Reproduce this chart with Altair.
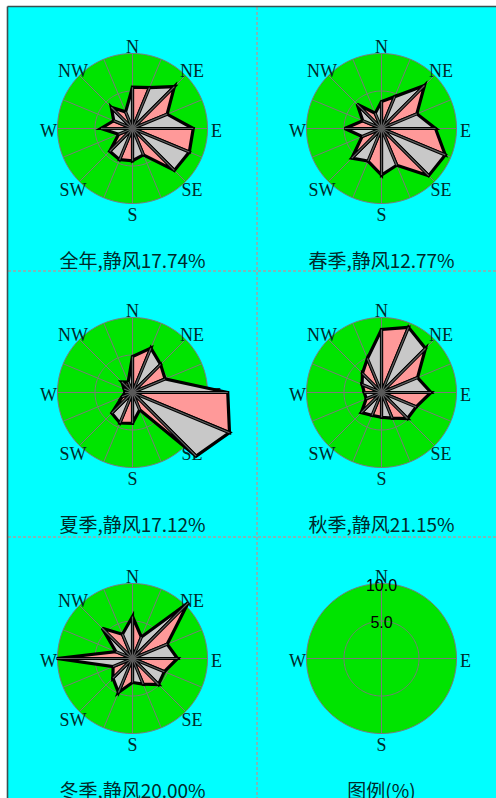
import numpy as np
import pandas as pd
import altair as alt

# 16 compass sectors, clockwise from north
DIRS = ["N", "NNE", "NE", "ENE", "E", "ESE", "SE", "SSE",
        "S", "SSW", "SW", "WSW", "W", "WNW", "NW", "NNW"]

# wind direction frequency (%) per sector
annual = [5.5, 5.9, 7.9, 5.0, 8.1, 8.2, 7.9, 3.8, 4.3, 4.5, 4.3, 2.0, 4.2, 2.7, 4.0, 2.4]
spring = [3.6, 4.6, 8.1, 5.1, 7.2, 9.2, 8.9, 5.3, 6.2, 4.7, 5.6, 2.8, 4.9, 2.7, 4.6, 2.2]
summer = [4.8, 6.4, 5.3, 4.7, 12.7, 14.0, 12.0, 2.5, 4.1, 4.4, 3.9, 1.5, 1.0, 1.2, 2.0, 1.5]
autumn = [8.4, 9.4, 8.3, 5.2, 6.6, 5.0, 4.9, 3.7, 3.3, 3.3, 3.8, 2.2, 2.3, 2.8, 3.6, 4.9]
winter = [5.6, 3.1, 10.5, 5.0, 6.0, 4.6, 4.9, 3.7, 3.2, 4.9, 3.7, 2.8, 10.1, 2.4, 5.7, 3.5]

captions = ["全年,静风17.74%", "春季,静风12.77%", "夏季,静风17.12%",
            "秋季,静风21.15%", "冬季,静风20.00%", "图例(%)"]

compass_labels = ["N", "NE", "E", "SE", "S", "SW", "W", "NW"]
legend_labels = ["N", "E", "S", "W"]
rings = [10.0, 5.0]

PINK = "#FF9999"
GREY = "#C8C8C8"
GREEN = "#00E400"
GRID = "#7a7a7a"
TEXT = "#002a2a"

W, H = 496, 798
PX = 7.5                   # pixels per percent
CX, CY = 124.5, 121.5      # rose centre inside a grid cell
COL_X = [8, 257]           # cell left edges
ROW_Y = [7, 271, 537]      # cell top edges

panels = [
    {"values": annual, "caption": captions[0], "col": 0, "row": 0},
    {"values": spring, "caption": captions[1], "col": 1, "row": 0},
    {"values": summer, "caption": captions[2], "col": 0, "row": 1},
    {"values": autumn, "caption": captions[3], "col": 1, "row": 1},
    {"values": winter, "caption": captions[4], "col": 0, "row": 2},
    {"values": None, "caption": captions[5], "col": 1, "row": 2},
]

ring_rows, spoke_rows, petal_rows, ray_rows = [], [], [], []
hub_rows, label_rows, cap_rows, tick_rows = [], [], [], []

for pid, p in enumerate(panels):
    cx = COL_X[p["col"]] + CX
    cy = ROW_Y[p["row"]] + CY
    legend = p["values"] is None
    for r in rings:
        for i, k in enumerate(np.linspace(0, 16, 181)):
            ring_rows.append({"pid": pid, "ring": r, "i": i, "k": k, "r": r, "cx": cx, "cy": cy})
    for k in ([0, 4, 8, 12] if legend else range(16)):
        spoke_rows.append({"pid": pid, "k": k, "r": rings[0], "cx": cx, "cy": cy})
    names = legend_labels if legend else compass_labels
    for name in names:
        label_rows.append({"name": name, "k": DIRS.index(name), "r": 11.2, "cx": cx, "cy": cy})
    cap_rows.append({"t": p["caption"], "cx": cx, "cy": cy})
    if legend:
        for r in rings:
            tick_rows.append({"r": r, "k": 0, "cx": cx, "cy": cy})
        continue
    vals = p["values"]
    n = len(vals)
    for i in range(n):
        j = (i + 1) % n
        pts = [(i, 0.0), (i, vals[i]), (i + 1, vals[j]), (i, 0.0)]
        for o, (k, r) in enumerate(pts):
            petal_rows.append({"tri": f"{pid}-{i}", "o": o, "k": k, "r": r, "cx": cx, "cy": cy,
                               "shade": "a" if i % 2 == 0 else "b"})
        ray_rows.append({"k": i, "r": vals[i], "cx": cx, "cy": cy})
    hub_rows.append({"cx": cx, "cy": cy})

xs = alt.Scale(domain=[0, W], nice=False, zero=False)
ys = alt.Scale(domain=[0, H], reverse=True, nice=False, zero=False)


def X(f):
    return alt.X(f, type="quantitative", scale=xs, axis=None)


def Y(f):
    return alt.Y(f, type="quantitative", scale=ys, axis=None)


def polar(df):
    return alt.Chart(pd.DataFrame(df)).transform_calculate(
        x=f"datum.cx + datum.r * sin(datum.k * PI / 8) * {PX}",
        y=f"datum.cy - datum.r * cos(datum.k * PI / 8) * {PX}",
    )


one = pd.DataFrame({"a": [0]})
SEP = dict(color="#a2a2a2", strokeDash=[3, 2], strokeWidth=1.5)

# cyan grid area, outer frame and dashed cell separators
backdrop = alt.Chart(one).mark_rect(color="#00FFFF").encode(
    x=alt.value(COL_X[0]), x2=alt.value(W), y=alt.value(ROW_Y[0]), y2=alt.value(H))
sep_v = alt.Chart(one).mark_rule(**SEP).encode(
    x=alt.value(COL_X[1]), y=alt.value(ROW_Y[0]), y2=alt.value(H))
sep_h1 = alt.Chart(one).mark_rule(**SEP).encode(
    x=alt.value(COL_X[0]), x2=alt.value(W), y=alt.value(ROW_Y[1]))
sep_h2 = alt.Chart(one).mark_rule(**SEP).encode(
    x=alt.value(COL_X[0]), x2=alt.value(W), y=alt.value(ROW_Y[2]))
frame_top = alt.Chart(one).mark_rule(color="#3a5050", strokeWidth=1.6).encode(
    x=alt.value(COL_X[0] - 0.5), x2=alt.value(W), y=alt.value(ROW_Y[0] - 0.5))
frame_left = alt.Chart(one).mark_rule(color="#3a5050", strokeWidth=1.6).encode(
    x=alt.value(COL_X[0] - 0.5), y=alt.value(ROW_Y[0] - 0.5), y2=alt.value(H))

disc = polar(ring_rows).transform_filter("datum.ring == 10").mark_line(
    fill=GREEN, stroke=GRID, strokeWidth=1
).encode(x=X("x"), y=Y("y"), order="i:Q", detail="pid:N")

inner = polar(ring_rows).transform_filter("datum.ring == 5").mark_line(
    stroke=GRID, strokeWidth=1
).encode(x=X("x"), y=Y("y"), order="i:Q", detail="pid:N")

spokes = polar(spoke_rows).mark_rule(color=GRID, strokeWidth=1).encode(
    x=X("cx"), y=Y("cy"), x2="x:Q", y2="y:Q")

# compass letters sit beneath the petals, which may cover them
dir_text = polar(label_rows).mark_text(
    font="Liberation Serif", fontSize=18, color=TEXT, baseline="middle", align="center", dy=3
).encode(x=X("x"), y=Y("y"), text="name:N")

petals = polar(petal_rows).mark_line(
    stroke="black", strokeWidth=3.2, strokeJoin="miter"
).encode(
    x=X("x"), y=Y("y"), order="o:Q", detail="tri:N",
    fill=alt.Fill("shade:N", scale=alt.Scale(domain=["a", "b"], range=[PINK, GREY]), legend=None),
)

rays = polar(ray_rows).mark_rule(color="#606060", strokeWidth=1.2).encode(
    x=X("cx"), y=Y("cy"), x2="x:Q", y2="y:Q")

hub = alt.Chart(pd.DataFrame(hub_rows)).mark_circle(size=45, color="#595959", opacity=1).encode(
    x=X("cx"), y=Y("cy"))

ring_text = polar(tick_rows).mark_text(
    font="Liberation Sans", fontSize=16, color="black", baseline="middle", align="center", dy=2
).encode(x=X("x"), y=Y("y"), text=alt.Text("r:Q", format=".1f"))

cap_text = alt.Chart(pd.DataFrame(cap_rows)).transform_calculate(
    ty="datum.cy + 133"
).mark_text(
    font="Noto Sans CJK SC", fontSize=19, color=TEXT, baseline="middle", align="center"
).encode(x=X("cx"), y=Y("ty"), text="t:N")

chart = alt.layer(
    backdrop, sep_v, sep_h1, sep_h2, frame_top, frame_left,
    disc, inner, spokes, dir_text, petals, rays, hub, ring_text, cap_text,
).properties(
    width=W, height=H, padding=0, autosize=alt.AutoSizeParams(type="none"),
    background="white",
).configure_view(stroke=None, fill="white")

chart.save("out.html", embed_options={"renderer": "svg", "actions": False})
